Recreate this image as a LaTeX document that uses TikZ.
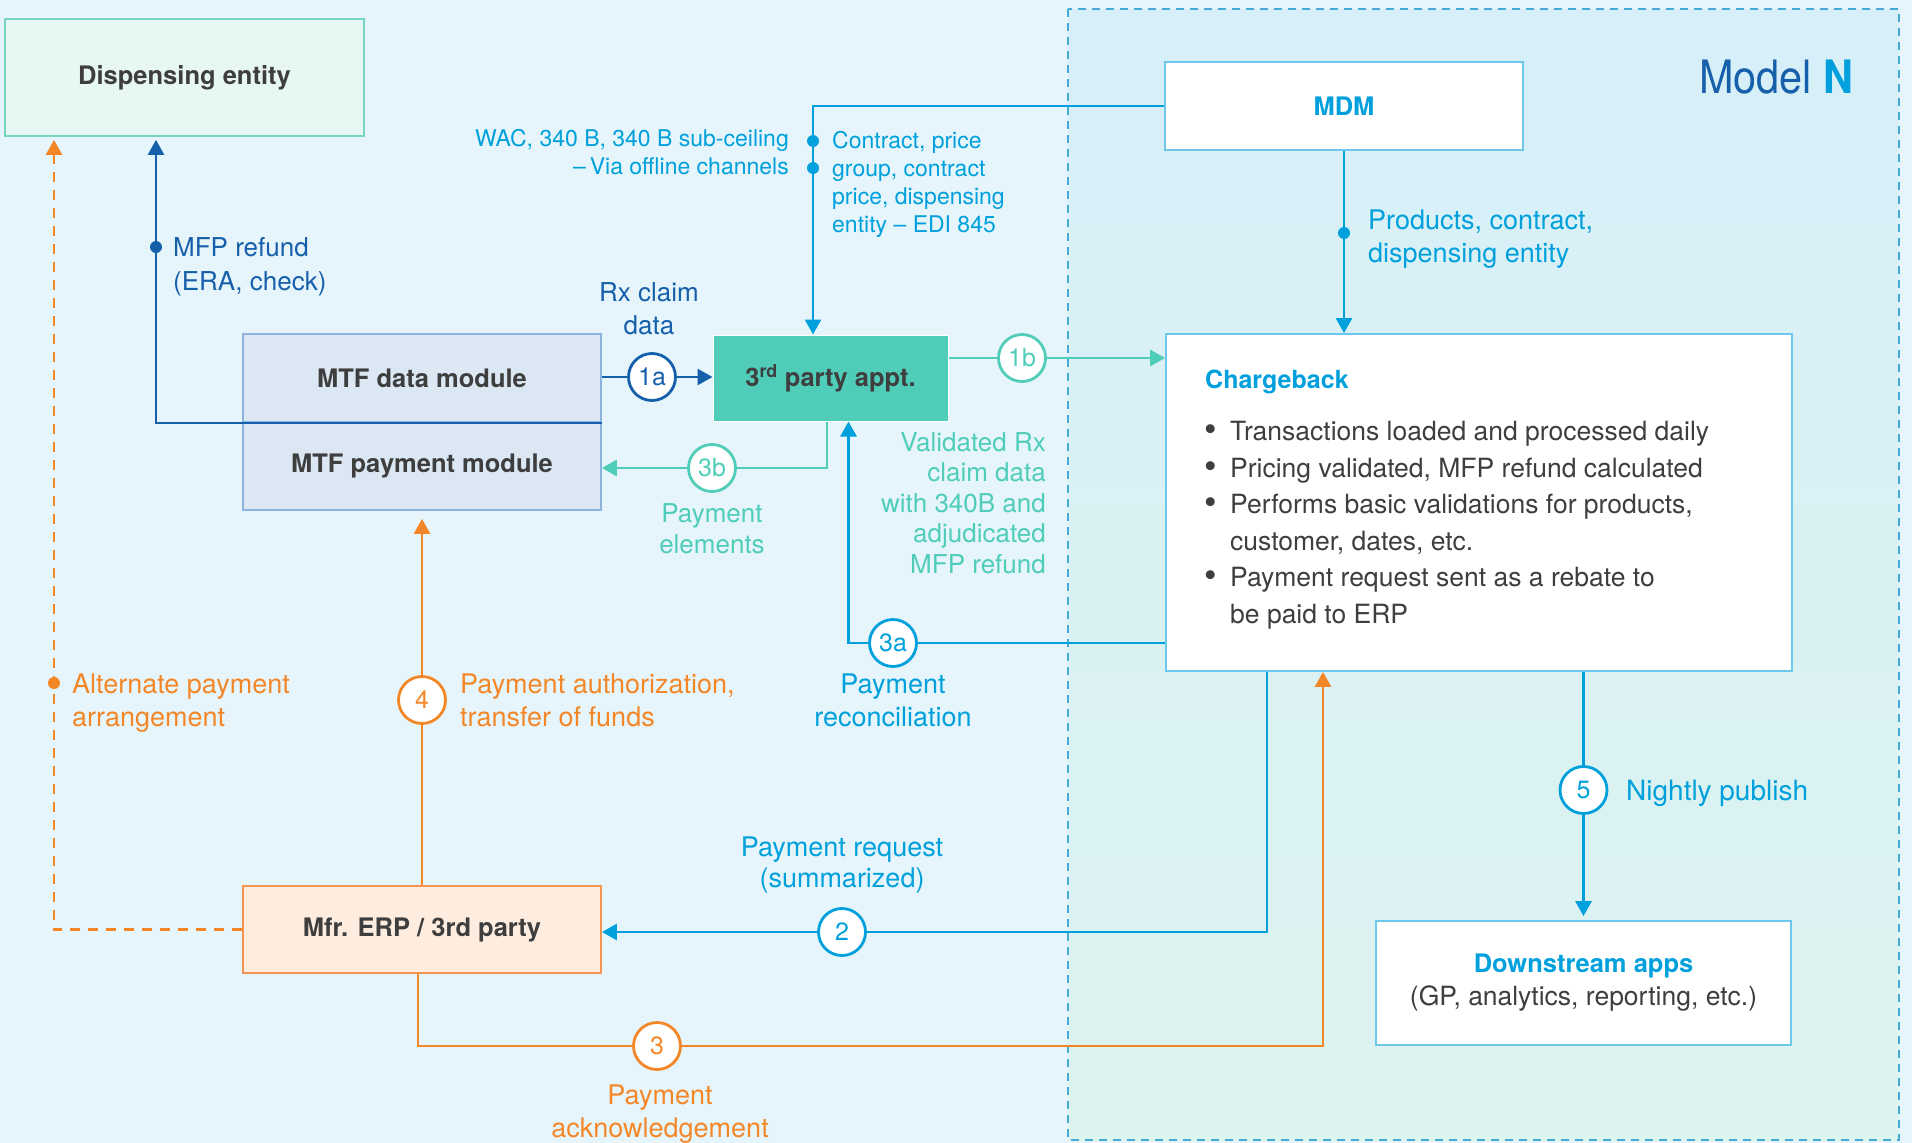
\documentclass[tikz,border=0pt]{standalone}
\usepackage{fontspec}
\setmainfont{TeX Gyre Heros}
\usepackage{graphicx}
\usepackage{tikz}
\usetikzlibrary{arrows.meta}

\definecolor{bgblue}{RGB}{230,245,251}
\definecolor{mntop}{RGB}{215,239,248}
\definecolor{mnbot}{RGB}{221,243,240}
\definecolor{mnline}{RGB}{70,170,215}
\definecolor{cyanl}{RGB}{0,160,220}
\definecolor{navy}{RGB}{22,95,170}
\definecolor{teal1}{RGB}{80,205,185}
\definecolor{orng}{RGB}{243,135,40}
\definecolor{txt}{RGB}{62,62,62}
\definecolor{boxline}{RGB}{110,200,235}
\definecolor{dispfill}{RGB}{231,247,243}
\definecolor{displine}{RGB}{120,212,195}
\definecolor{mtffill}{RGB}{219,232,243}
\definecolor{mtfline}{RGB}{140,180,222}
\definecolor{erpfill}{RGB}{254,237,223}
\definecolor{erpline}{RGB}{245,150,80}

\newcommand{\cbitem}{\makebox[26pt][l]{\raisebox{-1pt}{\scalebox{1.35}{•}}}}

\tikzset{
  box/.style={draw=boxline, line width=1.8pt, fill=white, inner sep=0, text=txt,
    font=\fontsize{25.5}{33}\selectfont\bfseries},
  numc/.style={circle, draw=#1, text=#1, fill=white, line width=2.8pt,
    minimum size=47pt, inner sep=0, font=\fontsize{25}{25}\selectfont},
  lbl/.style={inner sep=0, font=\fontsize{27}{33}\selectfont},
  linedot/.style={circle, fill, inner sep=0, minimum size=12pt},
  conn/.style={line width=2.8pt}
}

\begin{document}
\begin{tikzpicture}[x=1pt, y=-1pt, >={Triangle[length=15pt,width=16pt]}]
		\useasboundingbox (0,0) rectangle (1912,1143);
		\fill [bgblue] (0,0) rectangle (1912,1143);
		%Model N
		\shade [top color=mntop, bottom color=mnbot] (1068,9) rectangle (1899,1140);
		\draw [mnline, line width=1.5pt, dash pattern=on 8pt off 6pt] (1068,9) rectangle (1899,1140);
		\node [anchor=base west, inner sep=0, text=navy, font=\fontsize{46}{46}\selectfont] (mn) at (1699,93) {\scalebox{0.9}[1]{Model \textcolor{cyanl}{\bfseries N}}};
		%boxes
		\node [box, fill=dispfill, draw=displine, minimum width=359pt, minimum height=117pt] (disp) at (184.5,77.5) {Dispensing entity};
		\node [box, fill=mtffill, draw=mtfline, minimum width=358pt, minimum height=88pt] (mtfd) at (422,378) {MTF data module};
		\node [box, fill=mtffill, draw=mtfline, minimum width=358pt, minimum height=88pt] (mtfp) at (422,466) {MTF payment module};
		\node [box, fill=teal1, draw=white, line width=1pt, minimum width=235pt, minimum height=86pt] (third) at (830.5,378) {3\textsuperscript{rd} party appt.};
		\node [box, text=cyanl, minimum width=358pt, minimum height=88pt] (mdm) at (1344,106) {MDM};
		\node [box, minimum width=626pt, minimum height=337pt] (chg) at (1479,502.5) {};
		\node [box, fill=erpfill, draw=erpline, minimum width=358pt, minimum height=87pt] (erp) at (422,929.5) {Mfr. ERP / 3rd party};
		\node [box, align=center, minimum width=415pt, minimum height=124pt] (down) at (1583.5,983) {\textcolor{cyanl}{Downstream apps}\\{\mdseries\fontsize{26.5}{33}\selectfont (GP, analytics, reporting, etc.)}};
		%chargeback text
		\node [anchor=base west, inner sep=0, text=cyanl, font=\fontsize{25}{25}\selectfont\bfseries] (cbt) at (1205,388) {Chargeback};
		\node [lbl, anchor=north west, align=left, text=txt, font=\fontsize{26.5}{36.6}\selectfont] (cbl) at (1204,421) {\cbitem Transactions loaded and processed daily\\\cbitem Pricing validated, MFP refund calculated\\\cbitem Performs basic validations for products,\\\hspace*{26pt}customer, dates, etc.\\\cbitem Payment request sent as a rebate to\\\hspace*{26pt}be paid to ERP};
		%circles
		\node [numc=navy] (c1a) at (652,377) {1a};
		\node [numc=teal1] (c1b) at (1022,358) {1b};
		\node [numc=teal1] (c3b) at (712,468) {3b};
		\node [numc=cyanl] (c3a) at (893,643) {3a};
		\node [numc=cyanl] (c2) at (842,932) {2};
		\node [numc=orng] (c3) at (657,1046) {3};
		\node [numc=orng] (c4) at (422,700) {4};
		\node [numc=cyanl] (c5) at (1583.5,790) {5};
		%MDM
		\draw [conn, cyanl, ->] (mdm.west) -| ([xshift=-17.5pt]third.north);
		\node [linedot, cyanl] (d1) at (813,141) {};
		\node [linedot, cyanl] (d2) at (813,168) {};
		\draw [conn, cyanl, ->] (mdm.south) -- (mdm.south |- chg.north);
		\node [linedot, cyanl] (d3) at (1344,233) {};
		%1a
		\draw [conn, navy] (mtfd.east |- c1a) -- (c1a);
		\draw [conn, navy, ->] (c1a) -- (c1a -| third.west);
		%1b
		\draw [conn, teal1] (third.east |- c1b) -- (c1b);
		\draw [conn, teal1, ->] (c1b) -- (c1b -| chg.west);
		%3b
		\draw [conn, teal1] ([xshift=-3.5pt]third.south) |- (c3b);
		\draw [conn, teal1, ->] (c3b) -- (c3b -| mtfp.east);
		%3a
		\draw [conn, cyanl] (chg.west |- c3a) -- (c3a);
		\draw [conn, cyanl, ->] (c3a) -| ([xshift=18pt]third.south);
		%2
		\draw [conn, cyanl] ([xshift=-212pt]chg.south) |- (c2);
		\draw [conn, cyanl, ->] (c2) -- (c2 -| erp.east);
		%3
		\draw [conn, orng] ([xshift=-4pt]erp.south) |- (c3);
		\draw [conn, orng, ->] (c3) -| ([xshift=-156pt]chg.south);
		%4
		\draw [conn, orng] (erp.north) -- (c4);
		\draw [conn, orng, ->, shorten >=8pt] (c4) -- (mtfp.south);
		%5
		\draw [conn, cyanl] ([xshift=104.5pt]chg.south) -- (c5);
		\draw [conn, cyanl, ->, shorten >=4pt] (c5) -- (down.north);
		%alternate payment
		\draw [conn, orng, dash pattern=on 10pt off 8pt, ->, shorten >=3pt] (erp.west) -| ([xshift=-130.5pt]disp.south);
		\node [linedot, orng] (d4) at (54,683) {};
		%MFP refund
		\draw [conn, navy, ->, shorten >=3pt] (mtfd.south east) -| ([xshift=-28.5pt]disp.south);
		\node [linedot, navy] (d5) at (156,247) {};
		%labels
		\node [lbl, text=cyanl, align=right, anchor=north east, font=\fontsize{23}{28}\selectfont] (wac) at (789,129) {WAC, 340 B, 340 B sub-ceiling\\–\,Via offline channels};
		\node [lbl, text=cyanl, align=left, anchor=north west, font=\fontsize{23}{28}\selectfont] (edi) at (832,131) {Contract, price\\group, contract\\price, dispensing\\entity – EDI 845};
		\node [lbl, text=cyanl, align=left, anchor=north west] (prod) at (1368,210) {Products, contract,\\dispensing entity};
		\node [lbl, text=navy, align=center, anchor=north, font=\fontsize{26}{33}\selectfont] (rx) at (649,282) {Rx claim\\data};
		\node [lbl, text=navy, align=left, anchor=north west, font=\fontsize{26}{34}\selectfont] (mfp) at (173,237) {MFP refund\\(ERA, check)};
		\node [lbl, text=teal1, align=center, anchor=north, font=\fontsize{26}{31}\selectfont] (pel) at (712,503) {Payment\\elements};
		\node [lbl, text=teal1, align=right, anchor=north east, font=\fontsize{26}{30.6}\selectfont] (val) at (1046,432) {Validated Rx\\claim data\\with 340B and\\adjudicated\\MFP refund};
		\node [lbl, text=cyanl, align=center, anchor=north] (rec) at (893,674) {Payment\\reconciliation};
		\node [lbl, text=orng, align=left, anchor=north west] (auth) at (460,674) {Payment authorization,\\transfer of funds};
		\node [lbl, text=orng, align=left, anchor=north west] (alt) at (72,674) {Alternate payment\\arrangement};
		\node [lbl, text=cyanl, align=center, anchor=north, font=\fontsize{27}{31}\selectfont] (req) at (842,837) {Payment request\\(summarized)};
		\node [lbl, text=orng, align=center, anchor=north] (ack) at (660,1085) {Payment\\acknowledgement};
		\node [lbl, text=cyanl, anchor=base west, font=\fontsize{28}{28}\selectfont] (pub) at (1626,800) {Nightly publish};
\end{tikzpicture}
\end{document}
